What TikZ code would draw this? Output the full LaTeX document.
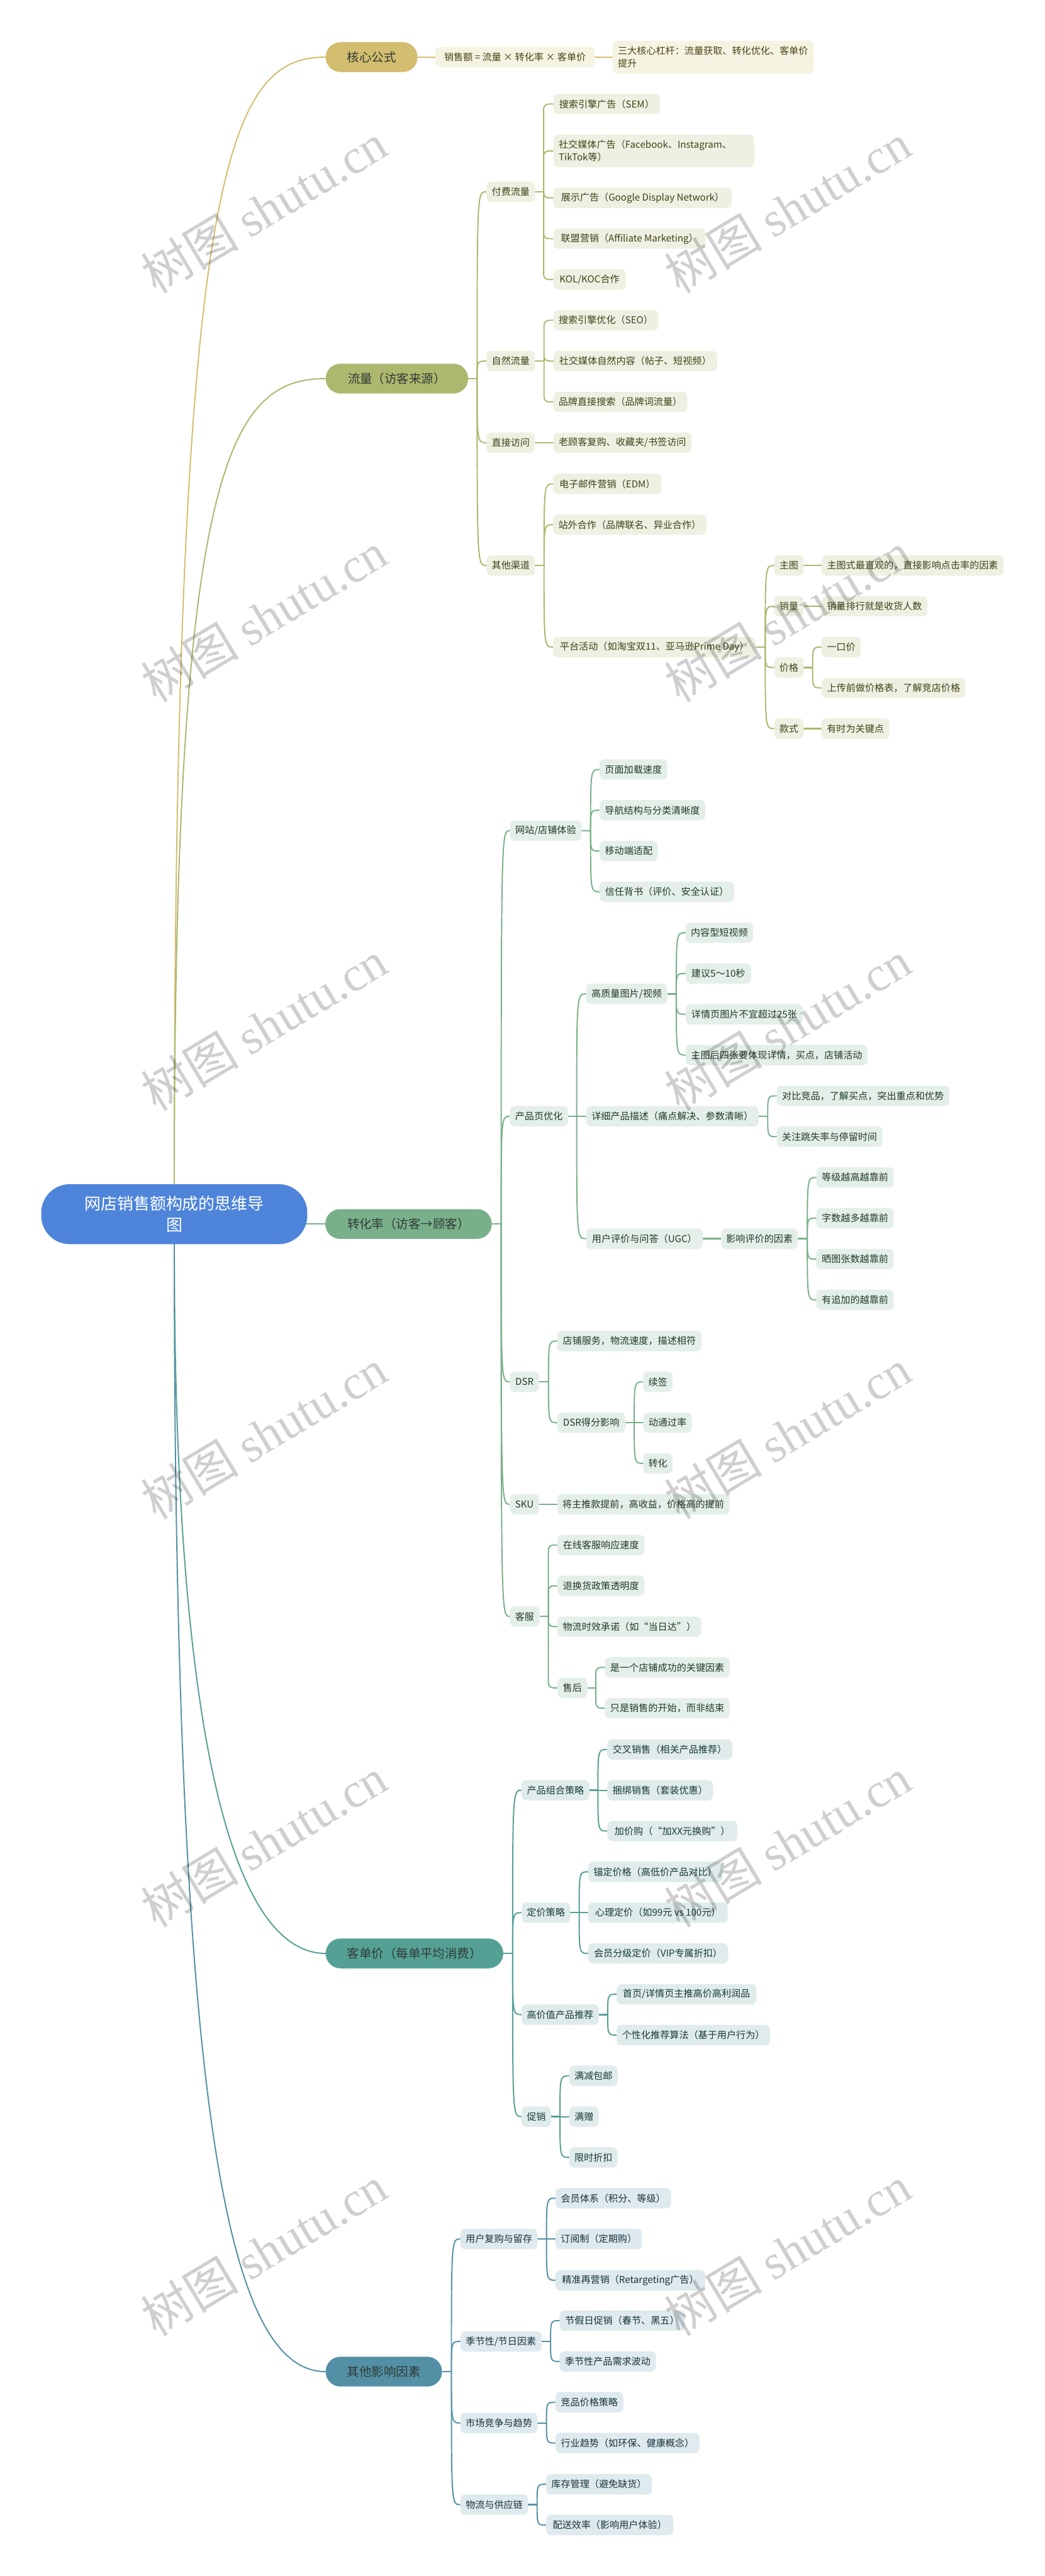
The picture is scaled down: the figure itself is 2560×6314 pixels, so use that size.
\documentclass[tikz,border=0pt]{standalone}
\usepackage{fontspec}
\setmainfont{Noto Sans CJK SC}
\newfontfamily\wmlatin{Liberation Serif}
\pgfdeclarelayer{bg}
\pgfsetlayers{bg,main}
\definecolor{rootc}{HTML}{4E85DA}
\definecolor{brA}{HTML}{D3BD6F}\definecolor{lfA}{HTML}{F5F3E1}\definecolor{txA}{HTML}{4A4216}
\definecolor{brB}{HTML}{AEB76E}\definecolor{lfB}{HTML}{EFF0E2}\definecolor{txB}{HTML}{3F4218}
\definecolor{brC}{HTML}{79B08A}\definecolor{lfC}{HTML}{E5EFE9}\definecolor{txC}{HTML}{1F3A2A}
\definecolor{brD}{HTML}{55A095}\definecolor{lfD}{HTML}{DFECEB}\definecolor{txD}{HTML}{183A36}
\definecolor{brE}{HTML}{5490A5}\definecolor{lfE}{HTML}{DFEAEE}\definecolor{txE}{HTML}{17333D}
\definecolor{l1tx}{HTML}{2F3A36}
\tikzset{
  x=0.5pt,y=-0.5pt,
  boxbase/.style={rectangle,inner sep=0pt,outer sep=0pt,align=center},
  rootbox/.style={boxbase,fill=rootc,text=white,rounded corners=35pt,minimum height=73.5pt,
    font=\fontsize{20}{26.7}\selectfont},
  topbox/.style={boxbase,rounded corners=18pt,minimum height=36.5pt,text=l1tx,
    font=\fontsize{15}{20}\selectfont},
  leafbox/.style={boxbase,rounded corners=6pt,minimum height=25pt,
    font=\fontsize{11.65}{15.2}\selectfont},
  topA/.style={topbox,fill=brA},topB/.style={topbox,fill=brB},topC/.style={topbox,fill=brC},
  topD/.style={topbox,fill=brD},topE/.style={topbox,fill=brE},
  lfA/.style={leafbox,fill=lfA,text=txA},lfB/.style={leafbox,fill=lfB,text=txB},
  lfC/.style={leafbox,fill=lfC,text=txC},lfD/.style={leafbox,fill=lfD,text=txD},
  lfE/.style={leafbox,fill=lfE,text=txE},
  wrapped/.style={align=left,minimum height=40pt},
  wire/.style={line width=1.5pt,line cap=round},
  stub/.style={line width=1.9pt},
  watermark/.style={rotate=31,text=black,text opacity=0.19,inner sep=0pt,
    font=\fontsize{60}{70}\selectfont},
}
% name, style, left, right, centre y, text
\newcommand\Nd[6]{\node[#2,minimum width={(#4-#3)*0.5pt}] (#1) at ({(#3+#4)/2},#5) {#6};}
% parent, spine x, colour, children: curved connectors
\newcommand\Kids[4]{%
  \coordinate (sp) at (#2,0);
  \draw[stub,draw=#3] (#1.east) -- (sp |- #1.east);
  \foreach \c in {#4}{\draw[wire,draw=#3] (sp |- #1.east) .. controls (sp |- \c.west) and (sp |- \c.west) .. (\c.west);}
}
% parent, spine x, colour, children: rounded elbows
\newcommand\Elbow[4]{%
  \coordinate (sp) at (#2,0);
  \draw[stub,draw=#3] (#1.east) -- (sp |- #1.east);
  \foreach \c in {#4}{\draw[wire,draw=#3,rounded corners=6pt] (sp |- #1.east) |- (\c.west);}
}
\newcommand\Line[3]{\draw[stub,draw=#3] (#1.east) -- (#2.west);}
\begin{document}
\begin{tikzpicture}
\begin{pgfonlayer}{bg}
\fill[white] (0,0) rectangle (2560,6314);
\end{pgfonlayer}
\useasboundingbox (0,0) rectangle (2560,6314);

\Nd{root}{rootbox}{101}{753}{2976}{网店销售额构成的思维导\\图}

% core formula
\Nd{a}{topA}{798}{1023}{140}{核心公式}
\Nd{a1}{lfA}{1067}{1457}{140}{销售额 = 流量 × 转化率 × 客单价}
\node[lfA,wrapped,minimum width={493*0.5pt},text width={467*0.5pt}] (a2) at (1747.5,140) {三大核心杠杆：流量获取、转化优化、客单价\\提升};

% traffic
\Nd{b}{topB}{798}{1147}{928}{流量（访客来源）}
\Nd{b1}{lfB}{1192}{1311}{470}{付费流量}
\Nd{b11}{lfB}{1356}{1617}{255}{搜索引擎广告（SEM）}
\node[lfB,wrapped,minimum width={492*0.5pt},text width={466*0.5pt}] (b12) at (1602,370) {社交媒体广告（Facebook、Instagram、\\TikTok等）};
\Nd{b13}{lfB}{1356}{1793}{485}{展示广告（Google Display Network）}
\Nd{b14}{lfB}{1356}{1729}{585}{联盟营销（Affiliate Marketing）}
\Nd{b15}{lfB}{1356}{1533}{685}{KOL/KOC合作}
\Nd{b2}{lfB}{1192}{1311}{885}{自然流量}
\Nd{b21}{lfB}{1356}{1613}{785}{搜索引擎优化（SEO）}
\Nd{b22}{lfB}{1356}{1757}{885}{社交媒体自然内容（帖子、短视频）}
\Nd{b23}{lfB}{1356}{1684}{985}{品牌直接搜索（品牌词流量）}
\Nd{b3}{lfB}{1192}{1311}{1085}{直接访问}
\Nd{b31}{lfB}{1356}{1694}{1085}{老顾客复购、收藏夹/书签访问}
\Nd{b4}{lfB}{1192}{1311}{1386}{其他渠道}
\Nd{b41}{lfB}{1355}{1621}{1186}{电子邮件营销（EDM）}
\Nd{b42}{lfB}{1355}{1731}{1286}{站外合作（品牌联名、异业合作）}
\Nd{b43}{lfB}{1355}{1852}{1586}{平台活动（如淘宝双11、亚马逊Prime Day）}
\Nd{b431}{lfB}{1897}{1969}{1386}{主图}
\Nd{b432}{lfB}{1897}{1969}{1486}{销量}
\Nd{b433}{lfB}{1897}{1969}{1636}{价格}
\Nd{b434}{lfB}{1897}{1969}{1786}{款式}
\Nd{b4311}{lfB}{2013}{2459}{1386}{主图式最直观的，直接影响点击率的因素}
\Nd{b4321}{lfB}{2013}{2272}{1486}{销量排行就是收货人数}
\Nd{b4331}{lfB}{2013}{2109}{1586}{一口价}
\Nd{b4332}{lfB}{2013}{2366}{1686}{上传前做价格表，了解竞店价格}
\Nd{b4341}{lfB}{2013}{2179}{1786}{有时为关键点}

% conversion
\Nd{c}{topC}{797}{1205}{3000}{转化率（访客→顾客）}
\Nd{c1}{lfC}{1249}{1425}{2036}{网站/店铺体验}
\Nd{c11}{lfC}{1469}{1635}{1886}{页面加载速度}
\Nd{c12}{lfC}{1469}{1728}{1986}{导航结构与分类清晰度}
\Nd{c13}{lfC}{1469}{1612}{2086}{移动端适配}
\Nd{c14}{lfC}{1469}{1799}{2186}{信任背书（评价、安全认证）}
\Nd{c2}{lfC}{1249}{1392}{2736}{产品页优化}
\Nd{c21}{lfC}{1436}{1635}{2436}{高质量图片/视频}
\Nd{c211}{lfC}{1680}{1845}{2286}{内容型短视频}
\Nd{c212}{lfC}{1680}{1840}{2386}{建议5～10秒}
\Nd{c213}{lfC}{1680}{1967}{2486}{详情页图片不宜超过25张}
\Nd{c214}{lfC}{1680}{2126}{2586}{主图后四张要体现详情，买点，店铺活动}
\Nd{c22}{lfC}{1436}{1859}{2736}{详细产品描述（痛点解决、参数清晰）}
\Nd{c221}{lfC}{1903}{2326}{2686}{对比竞品，了解买点，突出重点和优势}
\Nd{c222}{lfC}{1903}{2162}{2786}{关注跳失率与停留时间}
\Nd{c23}{lfC}{1436}{1722}{3036}{用户评价与问答（UGC）}
\Nd{c231}{lfC}{1767}{1955}{3036}{影响评价的因素}
\Nd{c2311}{lfC}{2000}{2190}{2886}{等级越高越靠前}
\Nd{c2312}{lfC}{2000}{2190}{2986}{字数越多越靠前}
\Nd{c2313}{lfC}{2000}{2190}{3086}{晒图张数越靠前}
\Nd{c2314}{lfC}{2000}{2190}{3186}{有追加的越靠前}
\Nd{c3}{lfC}{1249}{1321}{3387}{DSR}
\Nd{c31}{lfC}{1365}{1719}{3287}{店铺服务，物流速度，描述相符}
\Nd{c32}{lfC}{1365}{1532}{3487}{DSR得分影响}
\Nd{c321}{lfC}{1576}{1648}{3387}{续签}
\Nd{c322}{lfC}{1576}{1695}{3487}{动通过率}
\Nd{c323}{lfC}{1576}{1648}{3587}{转化}
\Nd{c4}{lfC}{1249}{1321}{3687}{SKU}
\Nd{c41}{lfC}{1365}{1787}{3687}{将主推款提前，高收益，价格高的提前}
\Nd{c5}{lfC}{1249}{1322}{3962}{客服}
\Nd{c51}{lfC}{1366}{1579}{3787}{在线客服响应速度}
\Nd{c52}{lfC}{1366}{1579}{3887}{退换货政策透明度}
\Nd{c53}{lfC}{1366}{1718}{3987}{物流时效承诺（如“当日达”）}
\Nd{c54}{lfC}{1366}{1439}{4137}{售后}
\Nd{c541}{lfC}{1482}{1788}{4087}{是一个店铺成功的关键因素}
\Nd{c542}{lfC}{1482}{1788}{4187}{只是销售的开始，而非结束}

% basket value
\Nd{d}{topD}{798}{1233}{4788}{客单价（每单平均消费）}
\Nd{d1}{lfD}{1278}{1444}{4388}{产品组合策略}
\Nd{d11}{lfD}{1488}{1794}{4288}{交叉销售（相关产品推荐）}
\Nd{d12}{lfD}{1488}{1747}{4388}{捆绑销售（套装优惠）}
\Nd{d13}{lfD}{1488}{1807}{4488}{加价购（“加XX元换购”）}
\Nd{d2}{lfD}{1278}{1397}{4688}{定价策略}
\Nd{d21}{lfD}{1441}{1770}{4588}{锚定价格（高低价产品对比）}
\Nd{d22}{lfD}{1441}{1783}{4688}{心理定价（如99元 vs 100元）}
\Nd{d23}{lfD}{1441}{1784}{4788}{会员分级定价（VIP专属折扣）}
\Nd{d3}{lfD}{1278}{1467}{4938}{高价值产品推荐}
\Nd{d31}{lfD}{1511}{1853}{4888}{首页/详情页主推高价高利润品}
\Nd{d32}{lfD}{1511}{1887}{4988}{个性化推荐算法（基于用户行为）}
\Nd{d4}{lfD}{1278}{1350}{5188}{促销}
\Nd{d41}{lfD}{1395}{1513}{5088}{满减包邮}
\Nd{d42}{lfD}{1395}{1467}{5188}{满赠}
\Nd{d43}{lfD}{1395}{1513}{5288}{限时折扣}

% other factors
\Nd{e}{topE}{798}{1083}{5813}{其他影响因素}
\Nd{e1}{lfE}{1128}{1317}{5488}{用户复购与留存}
\Nd{e11}{lfE}{1361}{1644}{5388}{会员体系（积分、等级）}
\Nd{e12}{lfE}{1361}{1573}{5488}{订阅制（定期购）}
\Nd{e13}{lfE}{1361}{1728}{5589}{精准再营销（Retargeting广告）}
\Nd{e2}{lfE}{1128}{1327}{5739}{季节性/节日因素}
\Nd{e21}{lfE}{1371}{1678}{5688}{节假日促销（春节、黑五）}
\Nd{e22}{lfE}{1371}{1607}{5788}{季节性产品需求波动}
\Nd{e3}{lfE}{1128}{1317}{5939}{市场竞争与趋势}
\Nd{e31}{lfE}{1361}{1527}{5888}{竞品价格策略}
\Nd{e32}{lfE}{1361}{1714}{5988}{行业趋势（如环保、健康概念）}
\Nd{e4}{lfE}{1128}{1294}{6139}{物流与供应链}
\Nd{e41}{lfE}{1338}{1597}{6089}{库存管理（避免缺货）}
\Nd{e42}{lfE}{1338}{1650}{6189}{配送效率（影响用户体验）}

\begin{pgfonlayer}{bg}
% root to main branches
\coordinate (ua) at (427,400);\coordinate (ub) at (560,140);
\draw[wire,draw=brA] (root.north) .. controls (ua) and (ub) .. (a.west);
\coordinate (ua) at (427,1150);\coordinate (ub) at (560,928);
\draw[wire,draw=brB] (root.north) .. controls (ua) and (ub) .. (b.west);
\draw[stub,draw=brC] (root.center |- c.west) -- (c.west);
\coordinate (ua) at (427,4300);\coordinate (ub) at (580,4788);
\draw[wire,draw=brD] (root.south) .. controls (ua) and (ub) .. (d.west);
\coordinate (ua) at (427,5200);\coordinate (ub) at (560,5813);
\draw[wire,draw=brE] (root.south) .. controls (ua) and (ub) .. (e.west);
% core formula
\Line{a}{a1}{brA}\Line{a1}{a2}{brA}
% traffic
\Kids{b}{1169}{brB}{b1,b2,b3,b4}
\Elbow{b1}{1332}{brB}{b11,b12,b13,b14,b15}
\Elbow{b2}{1333}{brB}{b21,b22,b23}
\Line{b3}{b31}{brB}
\Kids{b4}{1333}{brB}{b41,b42,b43}
\Kids{b43}{1875}{brB}{b431,b432,b433,b434}
\Line{b431}{b4311}{brB}\Line{b432}{b4321}{brB}\Line{b434}{b4341}{brB}
\Kids{b433}{1991}{brB}{b4331,b4332}
% conversion
\Kids{c}{1228}{brC}{c1,c2,c3,c4,c5}
\Kids{c1}{1447}{brC}{c11,c12,c13,c14}
\Kids{c2}{1413}{brC}{c21,c22,c23}
\Kids{c21}{1657}{brC}{c211,c212,c213,c214}
\Kids{c22}{1881}{brC}{c221,c222}
\Line{c23}{c231}{brC}
\Kids{c231}{1978}{brC}{c2311,c2312,c2313,c2314}
\Kids{c3}{1344}{brC}{c31,c32}
\Kids{c32}{1554}{brC}{c321,c322,c323}
\Line{c4}{c41}{brC}
\Elbow{c5}{1343.5}{brC}{c51,c52,c53,c54}
\Elbow{c54}{1460}{brC}{c541,c542}
% basket value
\Kids{d}{1256}{brD}{d1,d2,d3,d4}
\Kids{d1}{1465}{brD}{d11,d12,d13}
\Kids{d2}{1419}{brD}{d21,d22,d23}
\Kids{d3}{1489}{brD}{d31,d32}
\Kids{d4}{1372}{brD}{d41,d42,d43}
% other factors
\Kids{e}{1106}{brE}{e1,e2,e3,e4}
\Kids{e1}{1339}{brE}{e11,e12,e13}
\Kids{e2}{1349}{brE}{e21,e22}
\Kids{e3}{1339}{brE}{e31,e32}
\Kids{e4}{1316}{brE}{e41,e42}
\end{pgfonlayer}

% watermark
\foreach \i/\wy in {1/511,2/1512,3/2514,4/3515,5/4516,6/5517}{
  \node[watermark] (wl\i) at (647,\wy) {树图 {\wmlatin shutu.cn}};
  \node[watermark] (wr\i) at (1930,\wy) {树图 {\wmlatin shutu.cn}};
}
\end{tikzpicture}
\end{document}
